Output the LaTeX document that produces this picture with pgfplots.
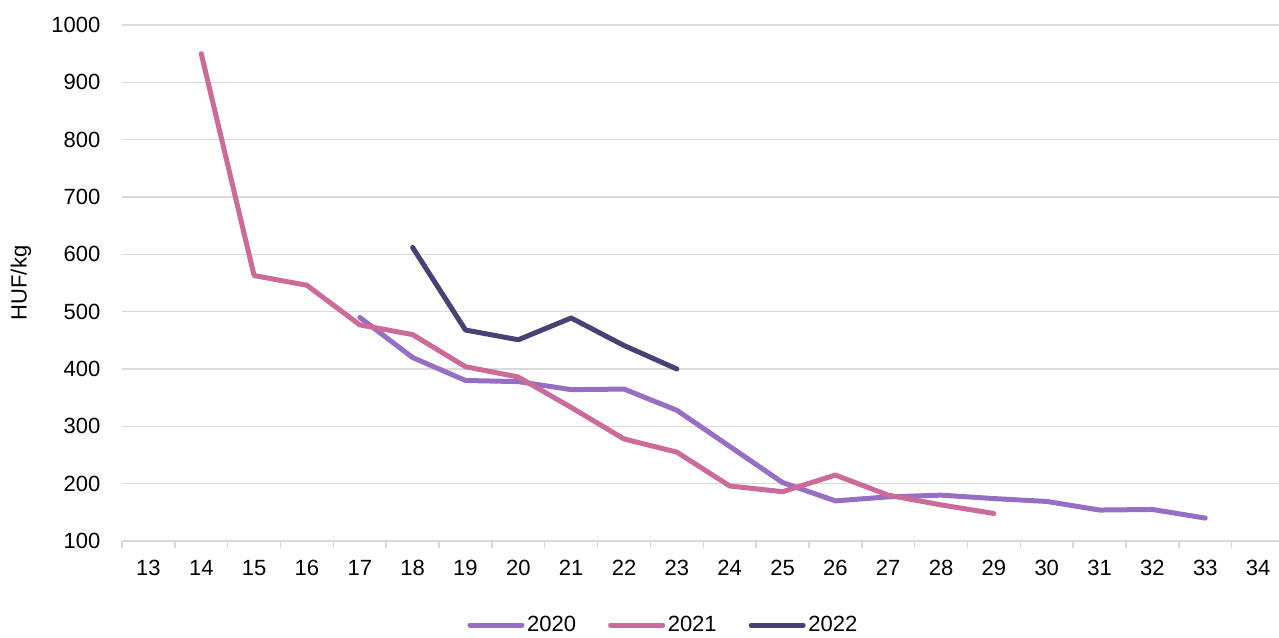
\documentclass[border=0pt]{standalone}
\usepackage{pgfplots}
\pgfplotsset{compat=1.18}
\usepackage{fontspec}
\setmainfont{Liberation Sans}
\definecolor{c2020}{RGB}{150,110,196}
\definecolor{c2021}{RGB}{204,106,154}
\definecolor{c2022}{RGB}{73,64,116}
\definecolor{gridc}{RGB}{217,217,217}
\begin{document}
\begin{tikzpicture}
\begin{axis}[
  at={(0,0)}, anchor=south west,
  scale only axis,
  width=871.9pt, height=387pt,
  xmin=12.5, xmax=34.5,
  ymin=100, ymax=1000,
  font=\fontsize{16.5}{19}\selectfont,
  /pgf/number format/assume math mode=true,
  /pgf/number format/1000 sep={},
  xtick={13,...,34},
  minor xtick={12.5,13.5,...,34.5},
  ytick={100,200,...,1000},
  major tick length=0pt,
  minor tick length=5pt,
  tick align=outside,
  xtick pos=bottom, ytick pos=left,
  minor tick style={draw=gridc, line width=1.1pt},
  major tick style={draw=none},
  ymajorgrids,
  major grid style={draw=gridc, line width=1.1pt},
  axis line style={draw=none},
  xticklabel style={anchor=north, inner sep=0pt, yshift=-14pt},
  yticklabel style={anchor=east, inner sep=0pt, xshift=-16pt},
  legend style={at={(0.466,-0.163)}, anchor=center, draw=none, fill=none,
    legend columns=3, font=\fontsize{16.5}{19}\selectfont,
    /tikz/every even column/.append style={column sep=22pt}},
  legend image code/.code={\draw[#1, line width=3.75pt, line cap=round] (0pt,0pt) -- (39pt,0pt);},
  every axis plot/.append style={line width=3.75pt, line join=round, line cap=round, no marks},
  clip=false,
]
\draw[gridc, line width=1.1pt] (axis cs:12.5,100) -- (axis cs:34.5,100);
\addplot[c2020] coordinates {
(17,490) (18,420) (19,380) (20,378) (21,364) (22,365) (23,328) (24,265)
(25,202) (26,170) (27,177) (28,180) (29,174) (30,169) (31,154) (32,155) (33,140)};
\addlegendentry{2020}
\addplot[c2021] coordinates {
(14,950) (15,563) (16,546) (17,477) (18,460) (19,404) (20,386) (21,333)
(22,278) (23,255) (24,196) (25,186) (26,215) (27,180) (28,163) (29,148)};
\addlegendentry{2021}
\addplot[c2022] coordinates {
(18,612) (19,468) (20,451) (21,489) (22,441) (23,400)};
\addlegendentry{2022}
\end{axis}
\node[rotate=90, font=\fontsize{16.5}{19}\selectfont] at (-75.75pt,193.5pt) {HUF/kg};
\pgfresetboundingbox
\useasboundingbox (-91.5pt,-72pt) rectangle (867.75pt,405.75pt);
\end{tikzpicture}
\end{document}
